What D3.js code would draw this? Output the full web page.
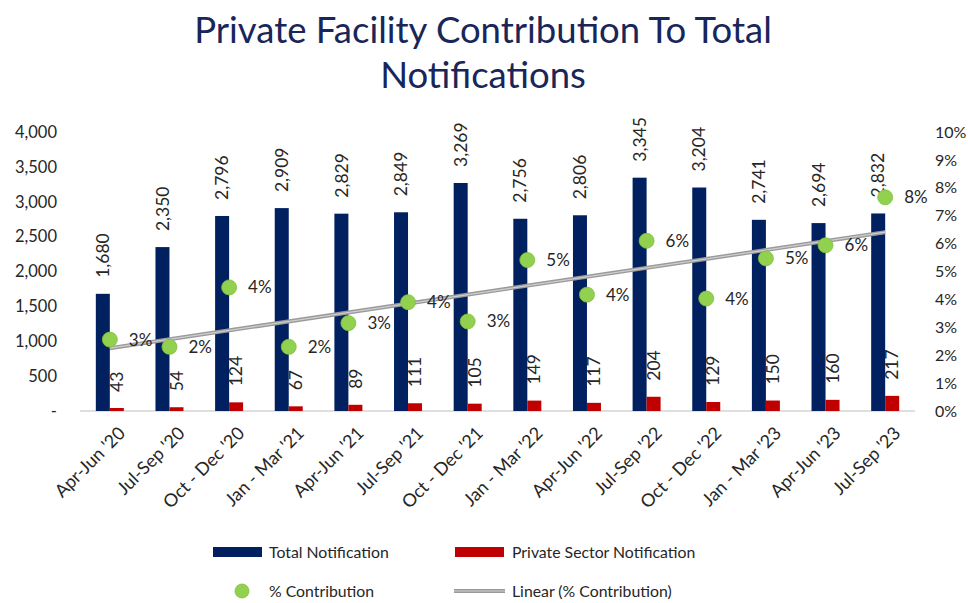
<!DOCTYPE html>
<html>
<head>
<meta charset="utf-8">
<script src="https://cdn.jsdelivr.net/npm/d3@7/dist/d3.min.js"></script>
<style>
  body { margin: 0; background: #fff; }
  text { font-family: Lato, "Open Sans", sans-serif; fill: #262626; }
</style>
</head>
<body>
<div id="root"></div>
<script>
const w = 968, h = 603

// data
const quarters = ["Apr-Jun '20", "Jul-Sep '20", "Oct - Dec '20", "Jan - Mar '21", "Apr-Jun '21", "Jul-Sep '21",
  "Oct - Dec '21", "Jan - Mar '22", "Apr-Jun '22", "Jul-Sep '22", "Oct - Dec '22", "Jan - Mar '23", "Apr-Jun '23", "Jul-Sep '23"]
const totalNotif = [1680, 2350, 2796, 2909, 2829, 2849, 3269, 2756, 2806, 3345, 3204, 2741, 2694, 2832]
const privateNotif = [43, 54, 124, 67, 89, 111, 105, 149, 117, 204, 129, 150, 160, 217]
const pctContrib = [2.56, 2.30, 4.43, 2.30, 3.15, 3.90, 3.21, 5.41, 4.17, 6.10, 4.03, 5.47, 5.94, 7.66]
const leftTicks = [0, 500, 1000, 1500, 2000, 2500, 3000, 3500, 4000]
const rightTicks = [0, 1, 2, 3, 4, 5, 6, 7, 8, 9, 10]

const navy = "#002060", red = "#C00000", green = "#92D050"

const rows = quarters.map((q, i) => ({
  q: q, total: totalNotif[i], priv: privateNotif[i], pct: pctContrib[i]
}))

//scales
const x = d3.scaleBand().domain(quarters).range([80, 915])
const yL = d3.scaleLinear().domain([0, 4000]).range([411, 132])
const yR = d3.scaleLinear().domain([0, 10]).range([411, 132])
const barW = 14

const svg = d3.select("#root").append("svg")
  .attr("width", w).attr("height", h)

// title
svg.append("text")
  .attr("text-anchor", "middle")
  .attr("font-size", 36.5)
  .style("fill", "#182659")
  .selectAll("tspan")
  .data(["Private Facility Contribution To Total", "Notifications"])
  .join("tspan")
  .attr("x", 483)
  .attr("y", (d, i) => 43 + i * 45)
  .text(d => d)

// axes
const fmt = d3.format(",")
svg.append("g").selectAll("text")
  .data(leftTicks)
  .join("text")
  .attr("x", 57).attr("y", d => yL(d))
  .attr("dy", "0.35em")
  .attr("text-anchor", "end")
  .attr("font-size", 16.5)
  .text(d => d === 0 ? "-" : fmt(d))

svg.append("g").selectAll("text")
  .data(rightTicks)
  .join("text")
  .attr("x", 935).attr("y", d => yR(d))
  .attr("dy", "0.35em")
  .attr("font-size", 16)
  .text(d => d + "%")

svg.append("line")
  .attr("x1", 80).attr("x2", 915)
  .attr("y1", yL(0)).attr("y2", yL(0))
  .attr("stroke", "#bfbfbf").attr("stroke-width", 1.2)

svg.append("g").selectAll("text")
  .data(quarters)
  .join("text")
  .attr("transform", d => `translate(${x(d) + x.bandwidth() / 2 + 12},${yL(0) + 19}) rotate(-45)`)
  .attr("text-anchor", "end")
  .attr("dy", "0.35em")
  .attr("font-size", 18)
  .text(d => d)

// bars
svg.append("g").selectAll("rect")
  .data(rows)
  .join("rect")
  .attr("x", d => x(d.q) + x.bandwidth() / 2 - barW)
  .attr("y", d => yL(d.total))
  .attr("width", barW)
  .attr("height", d => yL(0) - yL(d.total))
  .attr("fill", navy)

svg.append("g").selectAll("rect")
  .data(rows)
  .join("rect")
  .attr("x", d => x(d.q) + x.bandwidth() / 2)
  .attr("y", d => yL(d.priv))
  .attr("width", barW)
  .attr("height", d => yL(0) - yL(d.priv))
  .attr("fill", red)

// bar labels
svg.append("g").selectAll("text")
  .data(rows)
  .join("text")
  .attr("transform", d => `translate(${x(d.q) + x.bandwidth() / 2 - barW / 2},${yL(d.total) - 16}) rotate(-90)`)
  .attr("dy", "0.35em")
  .attr("font-size", 17.5)
  .text(d => fmt(d.total))

svg.append("g").selectAll("text")
  .data(rows)
  .join("text")
  .attr("transform", d => `translate(${x(d.q) + x.bandwidth() / 2 + barW / 2},${yL(d.priv) - 16}) rotate(-90)`)
  .attr("dy", "0.35em")
  .attr("font-size", 17.5)
  .text(d => d.priv)

// linear trend of % contribution (least squares, like Excel)
const n = rows.length
const mx = d3.mean(rows, (d, i) => i), my = d3.mean(rows, d => d.pct)
const slope = d3.sum(rows, (d, i) => (i - mx) * (d.pct - my)) / d3.sum(rows, (d, i) => (i - mx) * (i - mx))
const icpt = my - slope * mx
const trend = [0, n - 1].map(i => [x(quarters[i]) + x.bandwidth() / 2, yR(icpt + slope * i)])

svg.append("line")
  .attr("x1", trend[0][0]).attr("y1", trend[0][1])
  .attr("x2", trend[1][0]).attr("y2", trend[1][1])
  .attr("stroke", "#9a9a9a").attr("stroke-width", 4)
svg.append("line")
  .attr("x1", trend[0][0]).attr("y1", trend[0][1])
  .attr("x2", trend[1][0]).attr("y2", trend[1][1])
  .attr("stroke", "#cfcfcf").attr("stroke-width", 1.2)

// % points
svg.append("g").selectAll("circle")
  .data(rows)
  .join("circle")
  .attr("cx", d => x(d.q) + x.bandwidth() / 2)
  .attr("cy", d => yR(d.pct))
  .attr("r", 7.5)
  .attr("fill", green)
  .attr("stroke", "#7fbf3f").attr("stroke-width", 0.8)

svg.append("g").selectAll("text")
  .data(rows)
  .join("text")
  .attr("x", d => x(d.q) + x.bandwidth() / 2 + 19)
  .attr("y", d => yR(d.pct))
  .attr("dy", "0.35em")
  .attr("font-size", 17)
  .text(d => Math.round(d.pct) + "%")

// legend
const lg = svg.append("g")
lg.append("rect").attr("x", 213).attr("y", 547).attr("width", 49).attr("height", 10).attr("fill", navy)
lg.append("text").attr("x", 269).attr("y", 552).attr("dy", "0.35em").attr("font-size", 15.8).text("Total Notification")
lg.append("rect").attr("x", 455).attr("y", 547).attr("width", 49).attr("height", 10).attr("fill", red)
lg.append("text").attr("x", 512).attr("y", 552).attr("dy", "0.35em").attr("font-size", 15.8).text("Private Sector Notification")
lg.append("circle").attr("cx", 242).attr("cy", 591).attr("r", 7).attr("fill", green).attr("stroke", "#7fbf3f").attr("stroke-width", 0.8)
lg.append("text").attr("x", 269).attr("y", 591).attr("dy", "0.35em").attr("font-size", 15.8).text("% Contribution")
lg.append("line").attr("x1", 454).attr("x2", 505).attr("y1", 591).attr("y2", 591).attr("stroke", "#9a9a9a").attr("stroke-width", 4)
lg.append("line").attr("x1", 454).attr("x2", 505).attr("y1", 591).attr("y2", 591).attr("stroke", "#cfcfcf").attr("stroke-width", 1.2)
lg.append("text").attr("x", 512).attr("y", 591).attr("dy", "0.35em").attr("font-size", 15.8).text("Linear (% Contribution)")
</script>
</body>
</html>
